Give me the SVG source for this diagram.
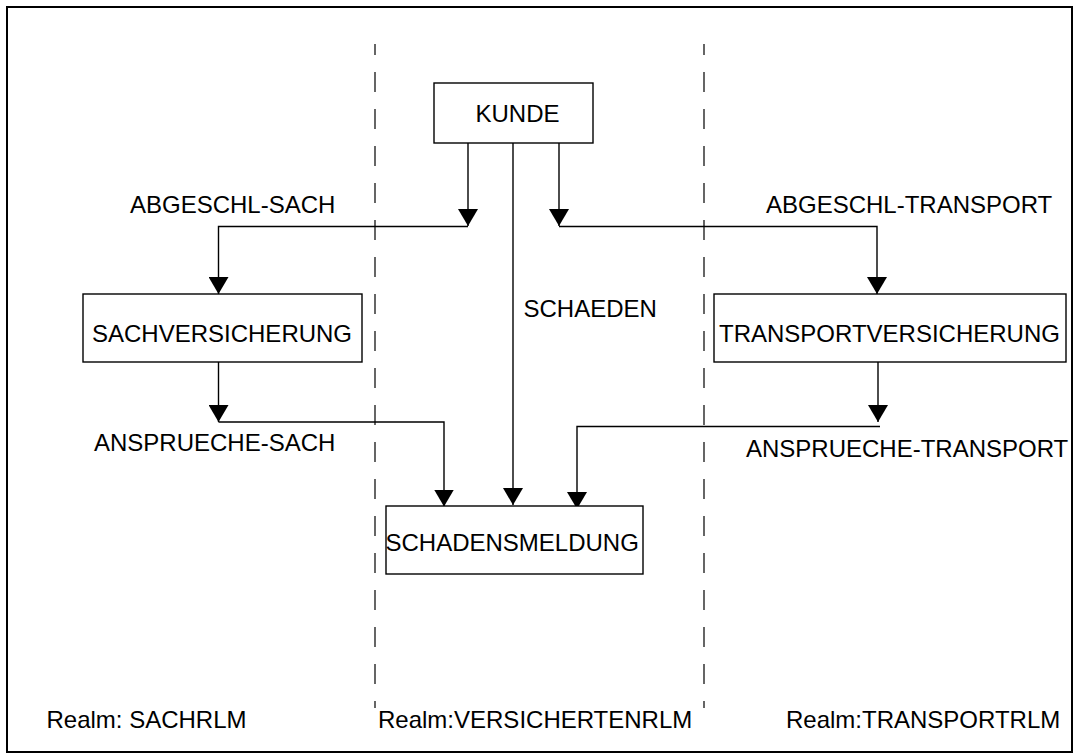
<svg xmlns="http://www.w3.org/2000/svg" width="1077" height="753" viewBox="0 0 1077 753">
<style>
.box{fill:#fff;stroke:#000;stroke-width:1.4}
.t{font-family:"Liberation Sans",Arial,sans-serif;font-size:24px;fill:#000}
.c{fill:none;stroke:#000;stroke-width:1.4}
.d{fill:none;stroke:#000;stroke-width:1.2;stroke-dasharray:20 17;stroke-dashoffset:9}
</style>
<defs>
<marker id="ah" viewBox="0 0 17 20" refX="17" refY="10" markerWidth="17" markerHeight="20" markerUnits="userSpaceOnUse" orient="auto">
<path d="M0,0 L17,10 L0,20 z" fill="#000"/>
</marker>
</defs>
<rect x="7" y="7" width="1065" height="745" fill="#fff" stroke="#000" stroke-width="2"/>
<g id="realm-lines">
<line class="d" x1="375" y1="44" x2="375" y2="708"/>
<line class="d" x1="704" y1="44" x2="704" y2="708"/>
</g>
<g id="connectors">
<path class="c" d="M468,142 V226" marker-end="url(#ah)"/>
<path class="c" d="M468,226.5 H218.5 V294" marker-end="url(#ah)"/>
<path class="c" d="M559,142 V226" marker-end="url(#ah)"/>
<path class="c" d="M559,226.5 H877 V294" marker-end="url(#ah)"/>
<path class="c" d="M513,143 V505" marker-end="url(#ah)"/>
<path class="c" d="M218.5,362 V422" marker-end="url(#ah)"/>
<path class="c" d="M218.5,422 H444 V506.5" marker-end="url(#ah)"/>
<path class="c" d="M878,362 V422" marker-end="url(#ah)"/>
<path class="c" d="M880,426.5 H577 V509" marker-end="url(#ah)"/>
</g>
<g id="labels">
<text class="t" x="130" y="213">ABGESCHL-SACH</text>
<text class="t" x="766" y="213">ABGESCHL-TRANSPORT</text>
<text class="t" x="523.5" y="317">SCHAEDEN</text>
<text class="t" x="94" y="450.5">ANSPRUECHE-SACH</text>
<text class="t" x="746" y="457">ANSPRUECHE-TRANSPORT</text>
</g>
<g id="KUNDE">
<rect class="box" x="434" y="83" width="159" height="60"/>
<text class="t" x="517.5" y="122" text-anchor="middle">KUNDE</text>
</g>
<g id="SACHVERSICHERUNG">
<rect class="box" x="83" y="294" width="279" height="68"/>
<text class="t" x="92" y="342">SACHVERSICHERUNG</text>
</g>
<g id="TRANSPORTVERSICHERUNG">
<rect class="box" x="714" y="294" width="352" height="68"/>
<text class="t" x="719" y="342">TRANSPORTVERSICHERUNG</text>
</g>
<g id="SCHADENSMELDUNG">
<rect class="box" x="386" y="506" width="257" height="68"/>
<text class="t" x="385.5" y="551">SCHADENSMELDUNG</text>
</g>
<g id="realms">
<text class="t" x="46.5" y="728">Realm: SACHRLM</text>
<text class="t" x="378" y="728">Realm:VERSICHERTENRLM</text>
<text class="t" x="786" y="728">Realm:TRANSPORTRLM</text>
</g>
</svg>
